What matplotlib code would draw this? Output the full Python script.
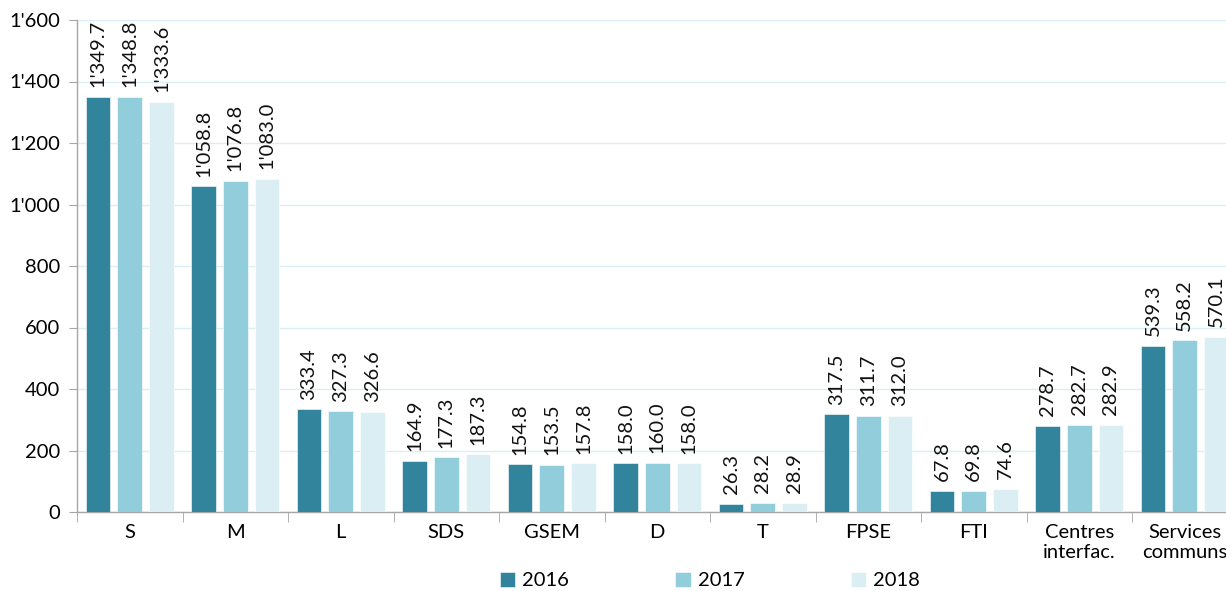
import numpy as np
import matplotlib
matplotlib.use("Agg")
import matplotlib.pyplot as plt
from matplotlib.ticker import FuncFormatter, FixedLocator

# ── Data ─────────────────────────────────────────────
categories = ["S", "M", "L", "SDS", "GSEM", "D", "T", "FPSE", "FTI",
              "Centres\ninterfac.", "Services\ncommuns"]
years = ["2016", "2017", "2018"]
v2016 = [1349.7, 1058.8, 333.4, 164.9, 154.8, 158.0, 26.3, 317.5, 67.8, 278.7, 539.3]
v2017 = [1348.8, 1076.8, 327.3, 177.3, 153.5, 160.0, 28.2, 311.7, 69.8, 282.7, 558.2]
v2018 = [1333.6, 1083.0, 326.6, 187.3, 157.8, 158.0, 28.9, 312.0, 74.6, 282.9, 570.1]

colors = ["#31849B", "#92CDDC", "#DAEEF3"]

plt.rcParams["font.family"] = ["Lato", "DejaVu Sans"]
FS = 14.5


def fmt(v, decimals=1):
    s = f"{v:,.{decimals}f}"
    return s.replace(",", "'")


fig = plt.figure(figsize=(12.26, 5.91), dpi=100)
W, H = 1226, 591
left, right_px, top_px, bottom_px = 77, 77 + 11 * 105.5, 20, 512
ax = fig.add_axes([left / W, 1 - bottom_px / H, (right_px - left) / W, (bottom_px - top_px) / H])

x = np.arange(len(categories))
width = 0.235
step = 0.3
series = [v2016, v2017, v2018]
for i, (vals, col, yr) in enumerate(zip(series, colors, years)):
    pos = x + (i - 1) * step
    ax.bar(pos, vals, width, color=col, edgecolor="white", linewidth=0.4, label=yr, zorder=3)
    for p, v in zip(pos, vals):
        ax.text(p, v + 32, fmt(v), rotation=90, ha="center", va="bottom",
                fontsize=FS, color="#111111", zorder=4)

ax.set_xlim(-0.5, len(categories) - 0.5)
ax.set_ylim(0, 1600)
ax.set_yticks(np.arange(0, 1601, 200))
ax.yaxis.set_major_formatter(FuncFormatter(lambda v, p: fmt(v, 0)))
ax.tick_params(axis="y", labelsize=FS, length=6, color="#A6A6A6", pad=6)
ax.grid(axis="y", color="#DAEEF3", linewidth=1, zorder=0)

ax.set_xticks(x)
ax.set_xticklabels(categories, fontsize=FS, linespacing=1.15)
ax.tick_params(axis="x", length=0, pad=9)
ax.xaxis.set_minor_locator(FixedLocator(np.arange(-0.5, len(categories), 1)))
ax.tick_params(axis="x", which="minor", length=7, color="#A6A6A6")

for s in ["top", "right"]:
    ax.spines[s].set_visible(False)
for s in ["left", "bottom"]:
    ax.spines[s].set_color("#A6A6A6")
    ax.spines[s].set_linewidth(1)

fig.legend(loc="lower center", bbox_to_anchor=(0.579, -0.028), ncol=3, frameon=False,
           fontsize=FS, handlelength=0.75, handleheight=0.75, handletextpad=0.35,
           columnspacing=5.3)

fig.savefig("out.png", dpi=100)
